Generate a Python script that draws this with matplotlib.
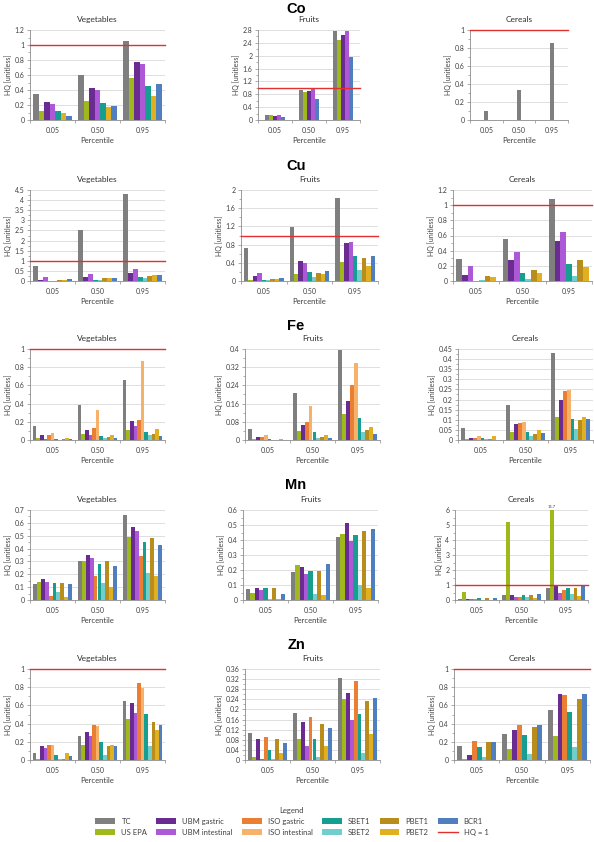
import matplotlib
matplotlib.use('Agg')
import matplotlib.pyplot as plt
import numpy as np
from matplotlib.patches import Patch
from matplotlib.lines import Line2D
from matplotlib.ticker import MultipleLocator, FixedLocator, AutoMinorLocator, FuncFormatter

plt.rcParams['font.family'] = ['Lato', 'DejaVu Sans']

percentiles = ['0.05', '0.50', '0.95']
methods = ['TC', 'US EPA', 'UBM gastric', 'UBM intestinal', 'ISO gastric',
           'ISO intestinal', 'SBET1', 'SBET2', 'PBET1', 'PBET2', 'BCR1']
colors = ['#7f7f7f', '#9fb81c', '#6a2c91', '#ad58d6', '#ea7f34',
          '#f6b26b', '#169f91', '#72cdcd', '#b88d1c', '#e0b020', '#4f7fbe']

# --- Co ---
co_veg = {'TC': [0.35, 0.60, 1.05], 'US EPA': [0.12, 0.26, 0.56],
          'UBM gastric': [0.24, 0.43, 0.77], 'UBM intestinal': [0.21, 0.40, 0.75],
          'SBET1': [0.12, 0.23, 0.45], 'PBET2': [0.10, 0.17, 0.32],
          'BCR1': [0.05, 0.19, 0.48]}
co_fru = {'TC': [0.15, 0.94, 2.78], 'US EPA': [0.15, 0.87, 2.49],
          'UBM gastric': [0.13, 0.89, 2.63], 'UBM intestinal': [0.15, 0.96, 2.77],
          'BCR1': [0.09, 0.66, 1.95]}
co_cer = {'TC': [0.10, 0.33, 0.86]}

# --- Cu ---
cu_veg = {'TC': [0.75, 2.50, 4.32], 'UBM gastric': [0.05, 0.22, 0.42],
          'UBM intestinal': [0.20, 0.33, 0.60], 'SBET1': [0.02, 0.07, 0.18],
          'SBET2': [0.02, 0.07, 0.17], 'PBET1': [0.05, 0.15, 0.25],
          'PBET2': [0.07, 0.17, 0.30], 'BCR1': [0.08, 0.15, 0.30]}
cu_fru = {'TC': [0.72, 1.18, 1.82], 'US EPA': [0.03, 0.15, 0.41],
          'UBM gastric': [0.12, 0.44, 0.83], 'UBM intestinal': [0.17, 0.39, 0.86],
          'SBET1': [0.03, 0.20, 0.54], 'SBET2': [0.02, 0.09, 0.25],
          'PBET1': [0.05, 0.18, 0.51], 'PBET2': [0.05, 0.15, 0.34],
          'BCR1': [0.07, 0.22, 0.54]}
cu_cer = {'TC': [0.29, 0.56, 1.08], 'UBM gastric': [0.08, 0.28, 0.53],
          'UBM intestinal': [0.20, 0.38, 0.65], 'SBET1': [0.005, 0.11, 0.22],
          'SBET2': [0.01, 0.03, 0.07], 'PBET1': [0.07, 0.14, 0.28],
          'PBET2': [0.05, 0.10, 0.18]}

# --- Fe ---
fe_veg = {'TC': [0.15, 0.39, 0.66], 'US EPA': [0.025, 0.07, 0.11],
          'UBM gastric': [0.06, 0.11, 0.21], 'UBM intestinal': [0.01, 0.05, 0.15],
          'ISO gastric': [0.05, 0.13, 0.22], 'ISO intestinal': [0.08, 0.33, 0.87],
          'SBET1': [0.015, 0.04, 0.09], 'SBET2': [0.005, 0.02, 0.05],
          'PBET1': [0.01, 0.03, 0.07], 'PBET2': [0.02, 0.05, 0.12],
          'BCR1': [0.01, 0.02, 0.04]}
fe_fru = {'TC': [0.05, 0.207, 0.396], 'US EPA': [0.003, 0.04, 0.116],
          'UBM gastric': [0.015, 0.067, 0.173], 'ISO gastric': [0.012, 0.081, 0.243],
          'ISO intestinal': [0.02, 0.151, 0.34], 'SBET1': [0.003, 0.034, 0.098],
          'SBET2': [0.002, 0.01, 0.034], 'PBET1': [0.002, 0.015, 0.046],
          'PBET2': [0.006, 0.022, 0.056], 'BCR1': [0.001, 0.007, 0.025]}
fe_cer = {'TC': [0.058, 0.172, 0.43], 'US EPA': [0.005, 0.04, 0.115],
          'UBM gastric': [0.008, 0.078, 0.2], 'ISO gastric': [0.012, 0.083, 0.242],
          'ISO intestinal': [0.02, 0.088, 0.247], 'SBET1': [0.012, 0.04, 0.105],
          'SBET2': [0.003, 0.02, 0.055], 'PBET1': [0.005, 0.032, 0.097],
          'PBET2': [0.018, 0.05, 0.113], 'BCR1': [0.002, 0.035, 0.102]}

# --- Mn ---
mn_veg = {'TC': [0.125, 0.30, 0.665], 'US EPA': [0.14, 0.30, 0.49],
          'UBM gastric': [0.16, 0.35, 0.565], 'UBM intestinal': [0.14, 0.325, 0.535],
          'ISO gastric': [0.03, 0.185, 0.34], 'SBET1': [0.13, 0.28, 0.455],
          'SBET2': [0.065, 0.13, 0.21], 'PBET1': [0.135, 0.30, 0.48],
          'PBET2': [0.02, 0.105, 0.19], 'BCR1': [0.125, 0.265, 0.43]}
mn_fru = {'TC': [0.075, 0.187, 0.418], 'US EPA': [0.05, 0.231, 0.44],
          'UBM gastric': [0.08, 0.218, 0.511], 'UBM intestinal': [0.068, 0.171, 0.395],
          'SBET1': [0.077, 0.191, 0.435], 'SBET2': [0.01, 0.04, 0.10],
          'PBET1': [0.077, 0.195, 0.46], 'PBET2': [0.005, 0.031, 0.078],
          'BCR1': [0.04, 0.242, 0.471]}
mn_cer = {'TC': [0.10, 0.33, 0.78], 'US EPA': [0.55, 5.2, 15.7],
          'UBM gastric': [0.06, 0.33, 1.0], 'UBM intestinal': [0.07, 0.17, 0.48],
          'ISO gastric': [0.05, 0.22, 0.70], 'SBET1': [0.13, 0.35, 0.82],
          'SBET2': [0.03, 0.20, 0.38], 'PBET1': [0.15, 0.36, 0.83],
          'PBET2': [0.02, 0.15, 0.28], 'BCR1': [0.15, 0.40, 0.97]}

# --- Zn ---
zn_veg = {'TC': [0.08, 0.265, 0.645], 'US EPA': [0.01, 0.16, 0.45],
          'UBM gastric': [0.15, 0.31, 0.63], 'UBM intestinal': [0.13, 0.26, 0.52],
          'ISO gastric': [0.17, 0.39, 0.85], 'ISO intestinal': [0.17, 0.37, 0.79],
          'SBET1': [0.06, 0.20, 0.505], 'SBET2': [0.01, 0.06, 0.15],
          'PBET1': [0.015, 0.15, 0.42], 'PBET2': [0.08, 0.16, 0.33],
          'BCR1': [0.04, 0.155, 0.39]}
zn_fru = {'TC': [0.105, 0.186, 0.326], 'US EPA': [0.01, 0.082, 0.241],
          'UBM gastric': [0.085, 0.152, 0.266], 'UBM intestinal': [0.005, 0.055, 0.158],
          'ISO gastric': [0.092, 0.169, 0.314], 'SBET1': [0.038, 0.084, 0.181],
          'SBET2': [0.003, 0.012, 0.026], 'PBET1': [0.083, 0.141, 0.233],
          'PBET2': [0.027, 0.055, 0.101], 'BCR1': [0.066, 0.127, 0.246]}
zn_cer = {'TC': [0.15, 0.29, 0.545], 'US EPA': [0.01, 0.12, 0.26],
          'UBM gastric': [0.05, 0.335, 0.73], 'ISO gastric': [0.21, 0.385, 0.71],
          'SBET1': [0.14, 0.275, 0.53], 'SBET2': [0.035, 0.07, 0.14],
          'PBET1': [0.195, 0.36, 0.67], 'BCR1': [0.20, 0.38, 0.72]}

foods = ['Vegetables', 'Fruits', 'Cereals']
elements = ['Co', 'Cu', 'Fe', 'Mn', 'Zn']
panels = [[co_veg, co_fru, co_cer], [cu_veg, cu_fru, cu_cer],
          [fe_veg, fe_fru, fe_cer], [mn_veg, mn_fru, mn_cer],
          [zn_veg, zn_fru, zn_cer]]

# axis ranges (top, step) per panel
yscales = [[(1.2, 0.2), (2.8, 0.4), (1.0, 0.2)],
           [(4.5, 0.5), (2.0, 0.4), (1.2, 0.2)],
           [(1.0, 0.2), (0.4, 0.08), (0.45, 0.05)],
           [(0.7, 0.1), (0.6, 0.1), (6, 1)],
           [(1.0, 0.2), (0.36, 0.04), (1.0, 0.2)]]

# layout in pixels: row (top, bottom), columns (left, right)
W, H = 594, 842
rows_px = [(30, 120), (190, 281), (349, 440), (510, 600), (669, 760)]
cols_px = [[(30, 165), (258, 360), (470, 568)],
           [(30, 165), (241, 378), (453, 592)],
           [(30, 165), (245, 380), (458, 593)],
           [(30, 165), (243, 378), (455, 588)],
           [(30, 165), (245, 380), (454, 590)]]
title_y = [9, 166, 326, 485, 645]

fig = plt.figure(figsize=(W / 100, H / 100), dpi=100)
fig.patch.set_facecolor('white')

fmt = FuncFormatter(lambda v, p: f'{round(v, 4):g}')
axis_col = '#8c8c8c'

for r, elem in enumerate(elements):
    top, bot = rows_px[r]
    fig.text(296 / W, 1 - title_y[r] / H, elem, ha='center', va='center',
             fontsize=10.5, fontweight='bold', family=['Liberation Sans', 'DejaVu Sans'])
    for c, food in enumerate(foods):
        l, rr = cols_px[r][c]
        ax = fig.add_axes([l / W, 1 - bot / H, (rr - l) / W, (bot - top) / H])
        data = panels[r][c]
        names = [m for m in methods if m in data]
        n = len(names)
        slots = max(n, 7)
        w = 0.92 / (slots + 0.5)
        x = np.arange(len(percentiles))
        for i, name in enumerate(names):
            off = (i - (n - 1) / 2) * w
            ax.bar(x + off, data[name], width=w, color=colors[methods.index(name)],
                   zorder=3, linewidth=0)
        ymax, step = yscales[r][c]
        ax.set_ylim(0, ymax)
        ax.set_xlim(-0.5, 2.5)
        ax.yaxis.set_major_locator(MultipleLocator(step))
        ax.yaxis.set_minor_locator(AutoMinorLocator(2))
        ax.yaxis.set_major_formatter(fmt)
        ax.set_xticks(x)
        ax.set_xticklabels(percentiles)
        ax.xaxis.set_minor_locator(FixedLocator([-0.5, 0.5, 1.5, 2.5]))
        ax.tick_params(axis='x', which='major', length=0, labelsize=5, pad=5, colors='#404040')
        ax.tick_params(axis='x', which='minor', length=2, color=axis_col, width=0.5)
        ax.tick_params(axis='y', which='major', length=2, labelsize=5, pad=2,
                       color=axis_col, width=0.5, labelcolor='#404040')
        ax.tick_params(axis='y', which='minor', length=1.5, color=axis_col, width=0.5)
        ax.grid(axis='y', color='#d9d9d9', linewidth=0.6, zorder=0)
        for s in ['top', 'right']:
            ax.spines[s].set_visible(False)
        for s in ['left', 'bottom']:
            ax.spines[s].set_color(axis_col)
            ax.spines[s].set_linewidth(0.6)
        if ymax >= 1:
            ax.axhline(1, color='#e03030', linewidth=1.0, zorder=4, clip_on=False)
        ax.set_title(food, fontsize=6, pad=6, color='#303030')
        ax.set_xlabel('Percentile', fontsize=5.5, labelpad=2, color='#404040')
        ax.set_ylabel('HQ [unitless]', fontsize=5, labelpad=2, color='#404040')
        # clipped bar label
        for i, name in enumerate(names):
            vals = data[name]
            for k, v in enumerate(vals):
                if v > ymax:
                    off = (i - (n - 1) / 2) * w
                    ax.text(x[k] + off, ymax * 1.01, f'{v:g}', fontsize=3,
                            ha='center', va='bottom', color='#404040')

handles = [Patch(facecolor=col, edgecolor='none') for col in colors]
handles.append(Line2D([0], [0], color='#e03030', linewidth=1.0))
labels = methods + ['HQ = 1']
leg = fig.legend(handles, labels, ncol=6, loc='upper center',
                 bbox_to_anchor=(292 / W, 1 - 800 / H), frameon=False,
                 fontsize=5.5, title='Legend', title_fontsize=5.5,
                 handlelength=2.6, handleheight=0.7, columnspacing=1.2,
                 labelspacing=0.5, handletextpad=0.8)
for t in leg.get_texts():
    t.set_color('#404040')
leg.get_title().set_color('#404040')

fig.savefig('out.png', dpi=100)
